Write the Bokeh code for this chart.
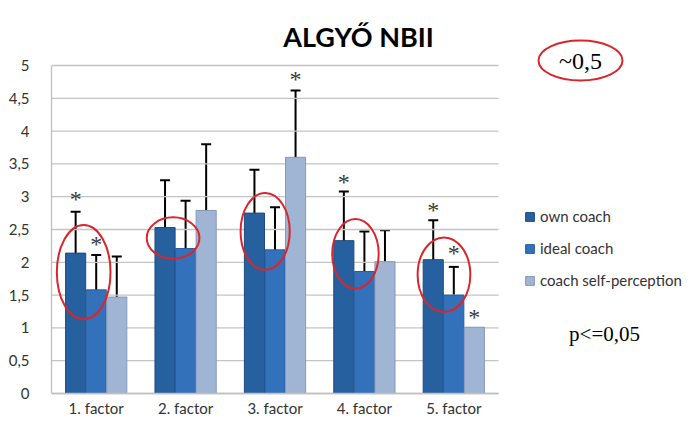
from bokeh.plotting import figure
from bokeh.models import (ColumnDataSource, Whisker, TeeHead, Legend, LegendItem,
                          FixedTicker, Range1d, CustomJSTickFormatter)
from bokeh.embed import file_html
from bokeh.resources import INLINE
from bokeh.core.properties import value

chart_title = "ALGYŐ NBII"
factors = ["1. factor", "2. factor", "3. factor", "4. factor", "5. factor"]
series = ["own coach", "ideal coach", "coach self-perception"]

own = [2.14, 2.53, 2.75, 2.33, 2.04]
own_hi = [2.77, 3.25, 3.41, 3.08, 2.64]
own_lo = [1.49, 1.80, 2.07, 1.56, 1.46]
ideal = [1.58, 2.21, 2.19, 1.86, 1.50]
ideal_hi = [2.11, 2.94, 2.84, 2.47, 1.93]
ideal_lo = [1.00, 1.49, 1.54, 1.25, 1.05]
selfp = [1.47, 2.79, 3.60, 2.01, 1.01]
selfp_hi = [2.09, 3.80, 4.62, 2.49, None]
selfp_lo = [0.84, 1.76, 2.57, 1.50, None]

# significance stars: factor index, series index, height
star_factor = [0, 0, 2, 3, 4, 4, 4]
star_series = [0, 1, 2, 0, 0, 1, 2]
star_y = [2.96, 2.28, 4.79, 3.22, 2.80, 2.14, 1.17]

# red ellipses (centre x in factor units, centre y, width, height)
ell_x = [0.36, 1.36, 2.39, 3.40, 4.39]
ell_y = [1.85, 2.37, 2.47, 2.13, 1.81]
ell_w = [0.60, 0.59, 0.55, 0.52, 0.59]
ell_h = [1.44, 0.63, 1.17, 1.06, 1.14]

y_ticks = [0, 0.5, 1, 1.5, 2, 2.5, 3, 3.5, 4, 4.5, 5]
note_top = "~0,5"
note_p = "p<=0,05"

colors = ["#27609f", "#3371ba", "#a0b4d4"]
edge = ["#1d4b80", "#285d9c", "#8399bd"]
offsets = [-0.23, 0.0, 0.23]
bar_w = 0.225
FONT = "Lato"

W, H = 684, 418
LEFT = 51
PX_X = 89.4    # pixels per factor
Y5_FIG = 65    # figure-pixel row of value 5
Y0_FIG = 393   # figure-pixel row of value 0
PX_Y = (Y0_FIG - Y5_FIG) / 5.0
n = len(factors)

def fx(px):
    return (px - LEFT) / PX_X

def fy(py):
    return (Y0_FIG - py) / PX_Y

p = figure(width=W, height=H, output_backend="svg", toolbar_location=None,
           x_range=Range1d(0, fx(W)), y_range=Range1d(fy(H), fy(0)),
           min_border_left=LEFT, min_border_right=0, min_border_top=0, min_border_bottom=0)
p.outline_line_color = None
p.background_fill_color = "white"
p.border_fill_color = "white"
p.xaxis.visible = False
p.xgrid.grid_line_color = None
p.ygrid.grid_line_color = None

# gridlines across the plot area only
p.segment(x0=[0] * len(y_ticks), x1=[n] * len(y_ticks), y0=y_ticks, y1=y_ticks,
          line_color="#c4c4c4", line_width=1.3)

centers = [i + 0.5 for i in range(n)]
vals = [own, ideal, selfp]
his = [own_hi, ideal_hi, selfp_hi]
los = [own_lo, ideal_lo, selfp_lo]

renderers = []
for s in range(3):
    xs = [c + offsets[s] for c in centers]
    src = ColumnDataSource(dict(x=xs, top=vals[s]))
    r = p.vbar(x="x", top="top", width=bar_w, source=src, fill_color=colors[s],
               line_color=edge[s], line_width=1)
    renderers.append(r)
    wx, wu, wl = [], [], []
    for x, h, l in zip(xs, his[s], los[s]):
        if h is not None:
            wx.append(x); wu.append(h); wl.append(l)
    wsrc = ColumnDataSource(dict(base=wx, upper=wu, lower=wl))
    w = Whisker(source=wsrc, base="base", upper="upper", lower="lower", dimension="height",
                line_color="black", line_width=2,
                upper_head=TeeHead(size=10, line_color="black", line_width=2),
                lower_head=TeeHead(size=10, line_color="black", line_width=2))
    p.add_layout(w)

# x baseline
p.segment(x0=[0], x1=[n], y0=[0], y1=[0], line_color="#bfbfbf", line_width=1.3)

# factor labels
p.text(x=centers, y=[fy(Y0_FIG + 5)] * n, text=factors, text_align="center", text_baseline="top",
       text_font=value(FONT), text_font_size="15px", text_color="#333333")

# stars
sx = [centers[f] + offsets[s] for f, s in zip(star_factor, star_series)]
p.text(x=sx, y=star_y, text=["*"] * len(sx), text_align="center", text_baseline="middle",
       text_font=value("Liberation Serif"), text_font_size="24px", text_color="#3a3a3a")

# red ellipses
p.ellipse(x=ell_x, y=ell_y, width=ell_w, height=ell_h, fill_color=None,
          line_color="#d8262c", line_width=2)

# y axis
p.yaxis.ticker = FixedTicker(ticks=y_ticks)
p.yaxis.bounds = (0, 5)
p.yaxis.formatter = CustomJSTickFormatter(code="return (Math.round(tick*10)/10).toString().replace('.', ',');")
p.yaxis.major_tick_line_color = None
p.yaxis.minor_tick_line_color = None
p.yaxis.axis_line_color = "#bfbfbf"
p.yaxis.axis_line_width = 1.3
p.yaxis.major_label_text_font = FONT
p.yaxis.major_label_text_font_size = "15px"
p.yaxis.major_label_text_color = "#333333"
p.yaxis.major_label_standoff = 16

# legend (location in pixels from the plot area's bottom-left)
legend = Legend(items=[LegendItem(label=series[i], renderers=[renderers[i]]) for i in range(3)],
                location=(524 - LEFT, H - 290), orientation="vertical",
                glyph_width=11, glyph_height=11, label_height=20, spacing=12,
                label_standoff=5, padding=0, margin=0,
                border_line_color=None, background_fill_alpha=0,
                label_text_font=FONT, label_text_font_size="15px", label_text_color="#333333")
p.add_layout(legend)

# title
p.text(x=[fx(358)], y=[fy(36)], text=[chart_title], text_align="center",
       text_baseline="alphabetic", text_font=value(FONT), text_font_style="bold",
       text_font_size="27px", text_color="black")

# notes
note_x = [fx(580), fx(604)]
note_y = [fy(60), fy(333)]
p.ellipse(x=note_x[:1], y=note_y[:1], width=84, height=40, width_units="screen",
          height_units="screen", fill_color=None, line_color="#d8262c", line_width=2)
p.text(x=note_x[:1], y=note_y[:1], text=[note_top], text_align="center", text_baseline="middle",
       text_font=value("Liberation Serif"), text_font_size="24px", text_color="black")
p.text(x=note_x[1:], y=note_y[1:], text=[note_p], text_align="center", text_baseline="middle",
       text_font=value("Liberation Serif"), text_font_size="21px", text_color="black")

open("out.html", "w").write(file_html(p, INLINE))
